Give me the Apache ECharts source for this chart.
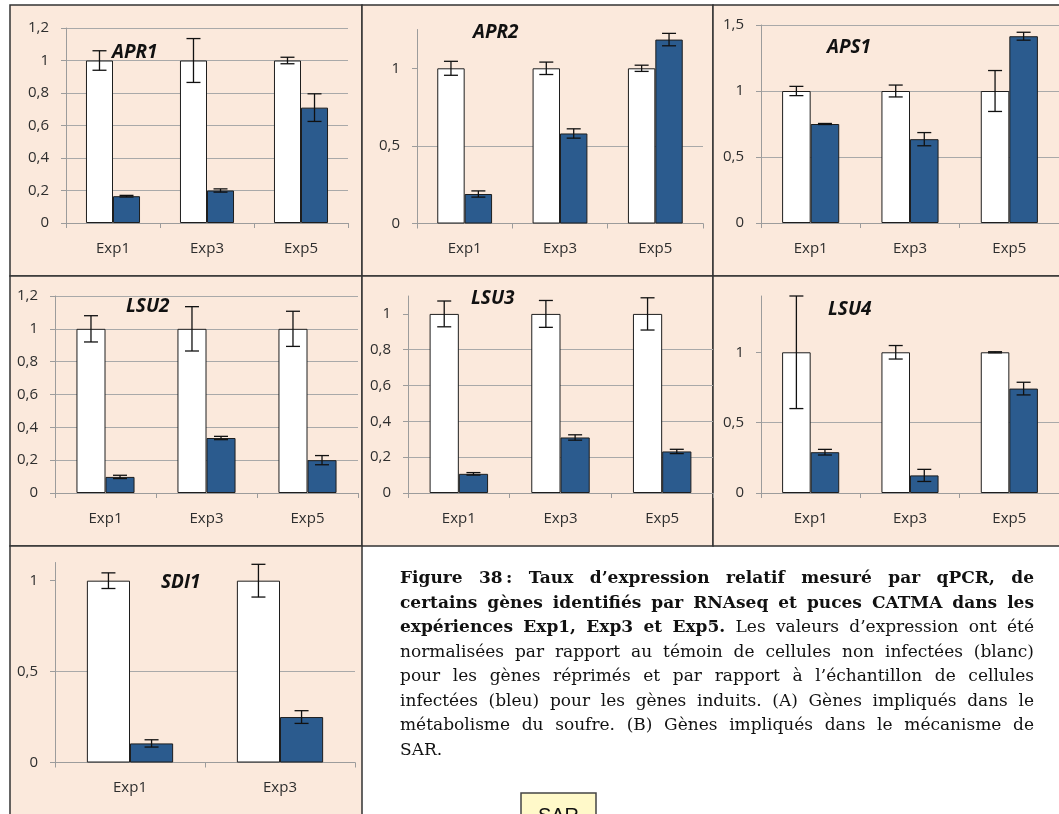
<!DOCTYPE html>
<html>
<head>
<meta charset="utf-8">
<script src="https://cdn.jsdelivr.net/npm/echarts@6/dist/echarts.min.js"></script>
<style>
  html, body { margin: 0; padding: 0; background: #fff; }
  #main { width: 1059px; height: 814px; }
</style>
</head>
<body>
<div id="main"></div>
<script>
// categories
const expCats3 = ['Exp1', 'Exp3', 'Exp5'];
const expCats2 = ['Exp1', 'Exp3'];

// values (white = témoin, blue = infecté), with error half-widths
const apr1White = [1, 1, 1];
const apr1WhiteErr = [0.06, 0.135, 0.02];
const apr1Blue = [0.165, 0.2, 0.71];
const apr1BlueErr = [0.005, 0.01, 0.085];

const apr2White = [1, 1, 1];
const apr2WhiteErr = [0.045, 0.04, 0.02];
const apr2Blue = [0.19, 0.58, 1.185];
const apr2BlueErr = [0.02, 0.03, 0.04];

const aps1White = [1, 1, 1];
const aps1WhiteErr = [0.035, 0.045, 0.155];
const aps1Blue = [0.75, 0.635, 1.415];
const aps1BlueErr = [0.004, 0.05, 0.03];

const lsu2White = [1, 1, 1];
const lsu2WhiteErr = [0.08, 0.135, 0.107];
const lsu2Blue = [0.098, 0.335, 0.2];
const lsu2BlueErr = [0.01, 0.01, 0.028];

const lsu3White = [1, 1, 1];
const lsu3WhiteErr = [0.072, 0.075, 0.09];
const lsu3Blue = [0.107, 0.31, 0.232];
const lsu3BlueErr = [0.007, 0.015, 0.012];

const lsu4White = [1, 1, 1];
const lsu4WhiteErr = [0.4, 0.048, 0.004];
const lsu4Blue = [0.29, 0.125, 0.742];
const lsu4BlueErr = [0.02, 0.043, 0.045];

const sdi1White = [1, 1];
const sdi1WhiteErr = [0.043, 0.09];
const sdi1Blue = [0.105, 0.25];
const sdi1BlueErr = [0.02, 0.035];

// caption text, line by line as in the figure: [text, bold]
const captionLines = [
  [['Figure 38\u2009: Taux d\u2019expression relatif mesuré par qPCR, de', true]],
  [['certains gènes identifiés par RNAseq et puces CATMA dans les', true]],
  [['expériences Exp1, Exp3 et Exp5.', true], ['Les valeurs d\u2019expression ont été', false]],
  [['normalisées par rapport au témoin de cellules non infectées (blanc)', false]],
  [['pour les gènes réprimés et par rapport à l\u2019échantillon de cellules', false]],
  [['infectées (bleu) pour les gènes induits. (A) Gènes impliqués dans le', false]],
  [['métabolisme du soufre. (B) Gènes impliqués dans le mécanisme de', false]],
  [['SAR.', false]]
];

const panels = [
  { name: 'APR1', cats: expCats3, white: apr1White, whiteErr: apr1WhiteErr, blue: apr1Blue, blueErr: apr1BlueErr, max: 1.2, interval: 0.2 },
  { name: 'APR2', cats: expCats3, white: apr2White, whiteErr: apr2WhiteErr, blue: apr2Blue, blueErr: apr2BlueErr, max: 1.25, interval: 0.5 },
  { name: 'APS1', cats: expCats3, white: aps1White, whiteErr: aps1WhiteErr, blue: aps1Blue, blueErr: aps1BlueErr, max: 1.5, interval: 0.5 },
  { name: 'LSU2', cats: expCats3, white: lsu2White, whiteErr: lsu2WhiteErr, blue: lsu2Blue, blueErr: lsu2BlueErr, max: 1.2, interval: 0.2 },
  { name: 'LSU3', cats: expCats3, white: lsu3White, whiteErr: lsu3WhiteErr, blue: lsu3Blue, blueErr: lsu3BlueErr, max: 1.1, interval: 0.2 },
  { name: 'LSU4', cats: expCats3, white: lsu4White, whiteErr: lsu4WhiteErr, blue: lsu4Blue, blueErr: lsu4BlueErr, max: 1.4, interval: 0.5 },
  { name: 'SDI1', cats: expCats2, white: sdi1White, whiteErr: sdi1WhiteErr, blue: sdi1Blue, blueErr: sdi1BlueErr, max: 1.1, interval: 0.5 }
];

// layout: plot area, gene label spot, framed panel box
const layout = [
  { grid: { left: 66, top: 28, width: 282, height: 195 }, label: [112, 53], box: [10, 5, 352, 271] },
  { grid: { left: 417, top: 29.5, width: 286, height: 194 }, label: [473, 33], box: [362, 5, 351, 271] },
  { grid: { left: 761, top: 25, width: 305, height: 198 }, label: [827, 48], box: [713, 5, 360, 271] },
  { grid: { left: 55, top: 296, width: 303, height: 197 }, label: [126, 307], box: [10, 276, 352, 270] },
  { grid: { left: 408, top: 296, width: 305, height: 197 }, label: [471, 299], box: [362, 276, 351, 270] },
  { grid: { left: 761, top: 296, width: 299, height: 197 }, label: [828, 310], box: [713, 276, 360, 270] },
  { grid: { left: 55, top: 562.5, width: 300, height: 200 }, label: [161, 583], box: [10, 546, 352, 280] }
];

const GAP = 0.425;
const BLUE = '#2B5B8E';
const PEACH = '#FBE9DC';
const AXIS_GREY = '#9c9c9c';
const LABEL_FONT = 'Open Sans';
const LABEL_COLOR = '#2e2e2e';

function isStep(v, step) {
  const k = v / step;
  return Math.abs(k - Math.round(k)) < 1e-6;
}

function errorBarItem(params, api) {
  const x = api.value(0);
  const lo = api.coord([x, api.value(1)]);
  const hi = api.coord([x, api.value(2)]);
  const band = api.size([1, 0])[0];
  const cx = lo[0] + api.value(3) * band * (1 - GAP) / 4;
  const cap = 7;
  const st = { stroke: '#111', lineWidth: 1.3 };
  return {
    type: 'group',
    children: [
      { type: 'line', shape: { x1: cx, y1: lo[1], x2: cx, y2: hi[1] }, style: st },
      { type: 'line', shape: { x1: cx - cap, y1: lo[1], x2: cx + cap, y2: lo[1] }, style: st },
      { type: 'line', shape: { x1: cx - cap, y1: hi[1], x2: cx + cap, y2: hi[1] }, style: st }
    ]
  };
}

const grids = [], xAxes = [], yAxes = [], series = [], graphics = [];

panels.forEach((p, i) => {
  const lay = layout[i];
  grids.push(Object.assign({ containLabel: false }, lay.grid));
  xAxes.push({
    gridIndex: i,
    type: 'category',
    data: p.cats,
    axisLine: { lineStyle: { color: AXIS_GREY, width: 1 } },
    axisTick: { show: true, length: 5, lineStyle: { color: AXIS_GREY } },
    axisLabel: { color: LABEL_COLOR, fontSize: 15, fontFamily: LABEL_FONT, margin: 18 },
    splitLine: { show: false }
  });
  const ticks = [];
  for (let v = 0; v <= p.max + 1e-9; v += p.interval) ticks.push(+v.toFixed(3));
  yAxes.push({
    gridIndex: i,
    type: 'value',
    min: 0,
    max: p.max,
    interval: p.interval,
    axisLine: { show: true, lineStyle: { color: AXIS_GREY, width: 1 } },
    axisTick: { show: true, length: 5, lineStyle: { color: AXIS_GREY }, customValues: ticks },
    axisLabel: {
      color: LABEL_COLOR, fontSize: 15, fontFamily: LABEL_FONT, margin: 17,
      formatter: v => isStep(v, p.interval) ? String(+v.toFixed(2)).replace('.', ',') : ''
    },
    splitLine: { show: true, showMaxLine: isStep(p.max, p.interval), lineStyle: { color: '#a9a9a9', width: 1 } }
  });
  series.push({
    type: 'bar', xAxisIndex: i, yAxisIndex: i, data: p.white,
    barGap: '0%', barCategoryGap: (GAP * 100) + '%',
    itemStyle: { color: '#ffffff', borderColor: '#1e1e1e', borderWidth: 1 }
  });
  series.push({
    type: 'bar', xAxisIndex: i, yAxisIndex: i, data: p.blue,
    barGap: '0%', barCategoryGap: (GAP * 100) + '%',
    itemStyle: { color: BLUE, borderColor: '#1e1e1e', borderWidth: 1 }
  });
  const errData = [];
  p.white.forEach((v, k) => errData.push([k, v - p.whiteErr[k], v + p.whiteErr[k], -1]));
  p.blue.forEach((v, k) => errData.push([k, v - p.blueErr[k], v + p.blueErr[k], 1]));
  series.push({
    type: 'custom', xAxisIndex: i, yAxisIndex: i, z: 5,
    encode: { x: 0, y: [1, 2] },
    renderItem: errorBarItem,
    data: errData
  });

  const b = lay.box;
  graphics.push({
    type: 'rect', z: -10,
    shape: { x: b[0], y: b[1], width: b[2], height: b[3] },
    style: { fill: PEACH, stroke: '#333', lineWidth: 1.5 }
  });
  graphics.push({
    type: 'text', z: 10, x: lay.label[0], y: lay.label[1],
    style: {
      text: p.name, fill: '#111', fontSize: 19, fontWeight: 'bold', fontStyle: 'italic',
      fontFamily: LABEL_FONT, verticalAlign: 'middle'
    }
  });
});

// justified caption, word by word
const CAP_FONT = 'DejaVu Serif';
const capLeft = 400, capRight = 1034, capTop = 579, capStep = 24.5;
const capWidth = capRight - capLeft;
const mctx = document.createElement('canvas').getContext('2d');
const capWords = captionLines.map(line => {
  const words = [];
  line.forEach(([txt, bold]) => txt.split(' ').forEach(w => words.push({ w, bold })));
  return words;
});
function measureWords(size) {
  capWords.forEach(words => words.forEach(o => {
    mctx.font = (o.bold ? 'bold ' : '') + size + 'px "' + CAP_FONT + '"';
    o.width = mctx.measureText(o.w).width;
  }));
}
// largest size (up to 17px) whose widest justified line still keeps decent word gaps
let capSize = 17;
measureWords(capSize);
let widest = 0;
capWords.slice(0, -1).forEach(words => {
  const t = words.reduce((s, o) => s + o.width, 0) + (words.length - 1) * capSize * 0.25;
  widest = Math.max(widest, t);
});
if (widest > capWidth) {
  capSize = capSize * capWidth / widest;
  measureWords(capSize);
}
capWords.forEach((words, li) => {
  const total = words.reduce((s, o) => s + o.width, 0);
  const last = li === capWords.length - 1;
  const space = last || words.length < 2 ? capSize * 0.3 : (capWidth - total) / (words.length - 1);
  let x = capLeft;
  words.forEach(o => {
    graphics.push({
      type: 'text', z: 10, x: x, y: capTop + li * capStep,
      style: {
        text: o.w, fill: '#111', fontSize: capSize, fontFamily: CAP_FONT,
        fontWeight: o.bold ? 'bold' : 'normal', verticalAlign: 'middle'
      }
    });
    x += o.width + space;
  });
});

// the "SAR" box peeking in at the bottom
graphics.push({
  type: 'rect', z: 10,
  shape: { x: 521, y: 793, width: 75, height: 40 },
  style: { fill: '#FFF9C9', stroke: '#444', lineWidth: 1.5 }
});
graphics.push({
  type: 'text', z: 11, x: 558.5, y: 806,
  style: { text: 'SAR', fill: '#111', fontSize: 20, fontFamily: 'Liberation Sans', align: 'center', verticalAlign: 'top' }
});

const chart = echarts.init(document.getElementById('main'));
chart.setOption({
  animation: false,
  backgroundColor: '#ffffff',
  grid: grids,
  xAxis: xAxes,
  yAxis: yAxes,
  series: series,
  graphic: { elements: graphics }
});
window.addEventListener('resize', () => chart.resize());
</script>
</body>
</html>
